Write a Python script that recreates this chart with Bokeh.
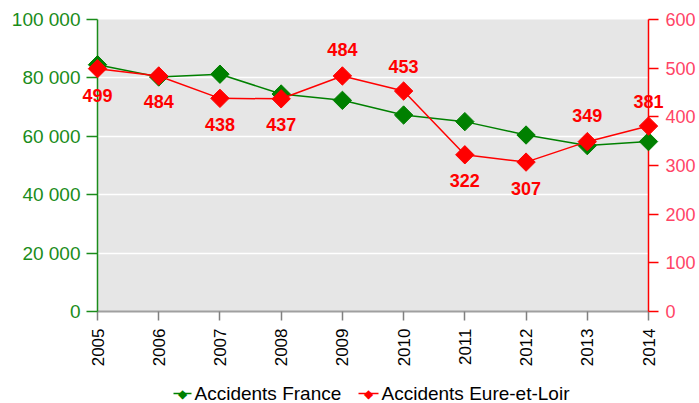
import math
from bokeh.plotting import figure
from bokeh.models import (Range1d, LinearAxis, ColumnDataSource, FixedTicker,
                          CustomJSTickFormatter)
from bokeh.core.properties import value
from bokeh.embed import file_html
from bokeh.resources import INLINE

years = [2005, 2006, 2007, 2008, 2009, 2010, 2011, 2012, 2013, 2014]
france = [84525, 80309, 81272, 74487, 72315, 67288, 65024, 60437, 56812, 58191]
eure_et_loir = [499, 484, 438, 437, 484, 453, 322, 307, 349, 381]
left_ticks = [0, 20000, 40000, 60000, 80000, 100000]
right_ticks = [0, 100, 200, 300, 400, 500, 600]
series_names = ["Accidents France", "Accidents Eure-et-Loir"]

# label placement (screen pixels, positive = down), kept separate from data
label_dy = [27, 26, 26, 26, -26, -25, 26, 26, -26, -25]

GREEN = "#008000"
GREEN_TXT = "#1a8c1a"
RED = "#ff0000"
RED_TXT = "#ff4466"
FONT = "Liberation Sans"
series_colors = [GREEN, RED]

# frame geometry (pixels)
FL, FT, FW, FH = 97, 19, 551, 292
W, H = 699, 403

p = figure(frame_width=FW, frame_height=FH, output_backend="svg", toolbar_location=None,
           x_range=Range1d(years[0], years[-1]), y_range=Range1d(0, left_ticks[-1]),
           min_border_left=FL, min_border_right=W - FL - FW, min_border_top=FT,
           min_border_bottom=H - FT - FH)
p.extra_y_ranges = {"right": Range1d(0, right_ticks[-1])}
p.background_fill_color = "#e6e6e6"
p.border_fill_color = "white"
p.outline_line_color = None
p.xgrid.grid_line_color = None
p.ygrid.grid_line_color = "white"
p.ygrid.grid_line_width = 1.5
p.ygrid.ticker = FixedTicker(ticks=left_ticks)

# left axis
ya = p.yaxis[0]
ya.ticker = FixedTicker(ticks=left_ticks)
ya.formatter = CustomJSTickFormatter(code="return tick == 0 ? '0' : (tick/1000).toFixed(0) + ' 000';")
ya.axis_line_color = GREEN_TXT
ya.axis_line_width = 1.5
ya.major_tick_line_color = GREEN_TXT
ya.major_tick_line_width = 1.5
ya.major_tick_out = 11
ya.major_tick_in = 0
ya.minor_tick_line_color = None
ya.major_label_text_color = GREEN_TXT
ya.major_label_text_font = FONT
ya.major_label_text_font_size = "19px"
ya.major_label_standoff = 6

# right axis
ra = LinearAxis(y_range_name="right", ticker=FixedTicker(ticks=right_ticks))
ra.axis_line_color = RED
ra.axis_line_width = 1.5
ra.major_tick_line_color = RED
ra.major_tick_line_width = 1.5
ra.major_tick_out = 10
ra.major_tick_in = 0
ra.minor_tick_line_color = None
ra.major_label_text_color = RED_TXT
ra.major_label_text_font = FONT
ra.major_label_text_font_size = "18px"
ra.major_label_standoff = 7
p.add_layout(ra, "right")

# bottom axis
xa = p.xaxis[0]
xa.ticker = FixedTicker(ticks=years)
xa.axis_line_color = "#a0a0a0"
xa.axis_line_width = 2
xa.major_tick_line_color = "#808080"
xa.major_tick_line_width = 1.5
xa.major_tick_out = 9
xa.major_tick_in = 0
xa.minor_tick_line_color = None
xa.major_label_orientation = math.pi / 2
xa.major_label_text_color = "black"
xa.major_label_text_font = FONT
xa.major_label_text_font_size = "17px"
xa.major_label_standoff = 8

src_f = ColumnDataSource(dict(x=years, y=france))
src_e = ColumnDataSource(dict(x=years, y=eure_et_loir,
                              lbl=[str(v) for v in eure_et_loir], dy=label_dy))

p.line("x", "y", source=src_f, line_color=GREEN, line_width=1.5, level="overlay")
p.scatter("x", "y", source=src_f, marker="square", angle=math.pi / 4, size=13,
          fill_color=GREEN, line_color=GREEN, level="overlay")
p.line("x", "y", source=src_e, line_color=RED, line_width=1.5, y_range_name="right",
       level="overlay")
p.scatter("x", "y", source=src_e, marker="square", angle=math.pi / 4, size=13,
          fill_color=RED, line_color=RED, y_range_name="right", level="overlay")
p.text("x", "y", text="lbl", source=src_e, y_range_name="right", y_offset="dy",
       text_align="center", text_baseline="middle", text_color=RED,
       text_font=value(FONT), text_font_style="bold", text_font_size="18px",
       level="overlay")

# legend, drawn below the axis (pixel layout converted through the scales)
def X(px):
    return years[0] + (px - FL) * (years[-1] - years[0]) / FW

def Y(py):
    return (FT + FH - py) * left_ticks[-1] / FH

leg_glyph_px = [(173, 191), (358, 378)]
leg_text_px = [194, 381]
leg_y_px = 393
for name, col, (g0, g1), tx in zip(series_names, series_colors, leg_glyph_px, leg_text_px):
    p.segment(x0=[X(g0)], x1=[X(g1)], y0=[Y(leg_y_px)], y1=[Y(leg_y_px)],
              line_color=col, line_width=1.5, level="overlay")
    p.text(x=[X((g0 + g1) / 2)], y=[Y(leg_y_px)], text=["\u25C6"], text_align="center",
           text_baseline="middle", text_color=col, text_font=value("DejaVu Sans"),
           text_font_size="12px", level="overlay")
    p.text(x=[X(tx)], y=[Y(leg_y_px)], text=[name], text_align="left",
           text_baseline="middle", text_color="black", text_font=value(FONT),
           text_font_size="19px", level="overlay")

open("out.html", "w").write(file_html(p, INLINE))
